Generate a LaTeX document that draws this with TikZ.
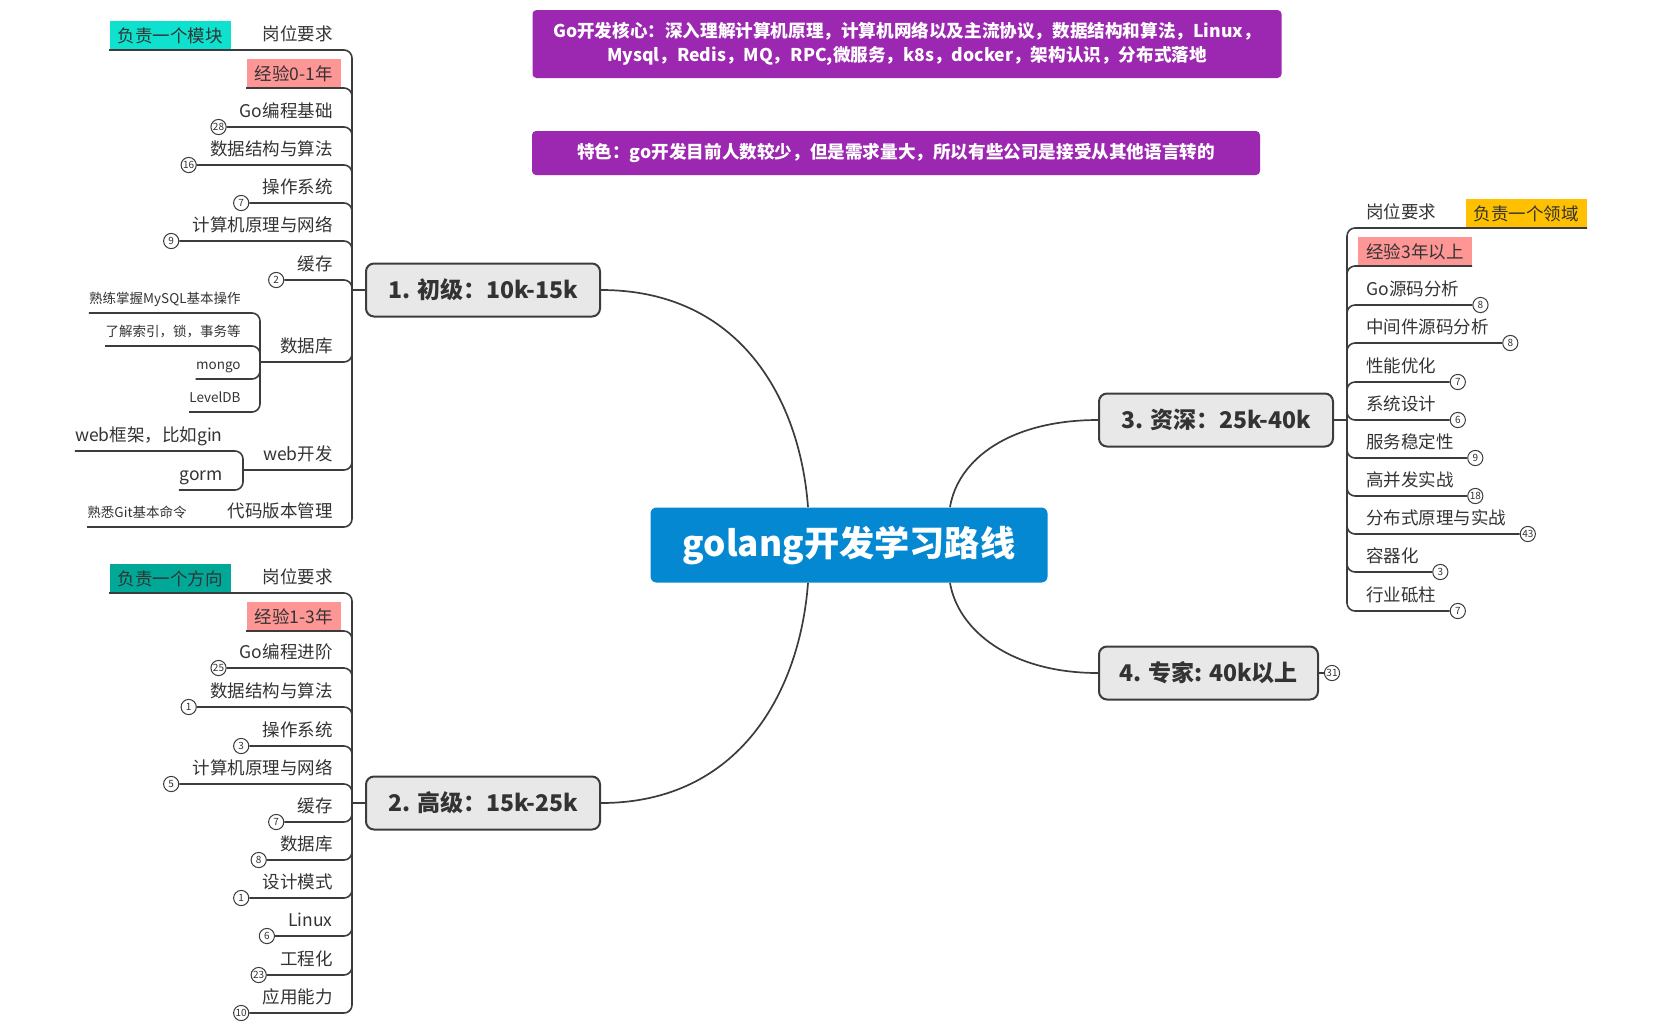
\documentclass[tikz,border=0pt]{standalone}
\usepackage{fontspec}
\setmainfont{Noto Sans CJK SC}
\definecolor{txtgray}{RGB}{51,51,51}
\definecolor{linegray}{RGB}{60,60,60}
\definecolor{topicgray}{RGB}{232,232,232}
\definecolor{rootblue}{RGB}{3,136,209}
\definecolor{notepurple}{RGB}{156,39,176}
\definecolor{modcyan}{RGB}{14,226,206}
\definecolor{dirteal}{RGB}{0,168,152}
\definecolor{fieldamber}{RGB}{255,192,0}
\definecolor{exppink}{RGB}{255,150,150}
\begin{document}
\begin{tikzpicture}[x=0.5pt, y=-0.5pt,
        root/.style={fill=rootblue, text=white, rounded corners=3pt, font=\fontsize{17.6}{20}\selectfont\bfseries,
            minimum width=198.5pt, minimum height=37.5pt},
        topic/.style={draw=linegray, fill=topicgray, line width=1pt, rounded corners=4pt, text=txtgray,
            font=\fontsize{11.5}{13}\selectfont\bfseries, minimum height=26.5pt, minimum width=117pt, inner xsep=8pt},
        note/.style={fill=notepurple, text=white, rounded corners=2pt, align=center,
            font=\fontsize{8.8}{12}\selectfont\bfseries},
        lsub/.style={anchor=south east, text=txtgray, font=\fontsize{8.75}{10}\selectfont,
            inner xsep=0pt, inner ysep=1pt, text height=0.85em, text depth=0.36em},
        rsub/.style={lsub, anchor=south west},
        small/.style={font=\fontsize{6.75}{8}\selectfont},
        tag/.style={anchor=south east, text=txtgray, font=\fontsize{8.75}{10}\selectfont,
            inner xsep=4pt, inner ysep=0pt, minimum height=14.5pt, text height=0.85em, text depth=0.15em},
        badge/.style={circle, draw=linegray, fill=white, inner sep=0pt, minimum size=7.6pt, line width=0.5pt,
            text=txtgray, font=\fontsize{5}{5}\selectfont},
        branch/.style={draw=linegray, line width=0.8pt, rounded corners=4pt},
        link/.style={draw=linegray, line width=0.85pt}]
    \useasboundingbox (0,0) rectangle (1654,1024);

    % notes on top
    \node [note, minimum width=374.5pt, minimum height=34pt] (core) at (907,44)
        {Go开发核心：深入理解计算机原理，计算机网络以及主流协议，数据结构和算法，Linux，\\
         Mysql，Redis，MQ，RPC,微服务，k8s，docker，架构认识，分布式落地};
    \node [note, minimum width=364pt, minimum height=22pt] (feat) at (896,153)
        {特色：go开发目前人数较少，但是需求量大，所以有些公司是接受从其他语言转的};

    % central topic and main topics
    \node [root] (ctr) at (849,545) {golang开发学习路线};
    \node [topic, anchor=east] (t1) at (601,290) {1. 初级：10k-15k};
    \node [topic, anchor=east] (t2) at (601,803) {2. 高级：15k-25k};
    \node [topic, anchor=west] (t3) at (1098,420) {3. 资深：25k-40k};
    \node [topic, anchor=west, minimum width=109.5pt] (t4) at (1098,673) {4. 专家: 40k以上};

    \draw [link] (t1.east) .. controls +(139,0) and +(-8,-108) .. ([xshift=-20.5pt]ctr.north);
    \draw [link] (t2.east) .. controls +(139,0) and +(-8,108) .. ([xshift=-20.5pt]ctr.south);
    \draw [link] (t3.west) .. controls +(-88,0) and +(8,-48) .. ([xshift=50.5pt]ctr.north);
    \draw [link] (t4.west) .. controls +(-88,0) and +(8,47) .. ([xshift=50.5pt]ctr.south);

    % 1. junior
    \coordinate (j1) at ([xshift=-6.5pt]t1.west);
    \draw [branch] (t1.west) -- (j1);
    \node [lsub] (req1) at (333,50) {岗位要求};
    \node [tag, fill=modcyan] (mod) at (231,50) {负责一个模块};
    \node [tag, fill=exppink] (exp1) at (341,88) {经验0-1年};
    \draw [branch] (j1) |- (mod.south west);
    \draw [branch] (j1) |- (exp1.south west);
    \foreach \i/\yu/\num/\lbl in {1/127/28/Go编程基础, 2/165/16/数据结构与算法, 3/203/7/操作系统,
                                  4/241/9/计算机原理与网络, 5/280/2/缓存} {
        \node [lsub] (pa\i) at (333,\yu) {\lbl};
        \node [badge] (pb\i) at ([xshift=-10.5pt]pa\i.south west) {\num};
        \draw [branch] (j1) |- (pb\i);
    }
    \node [lsub] (db1) at (333,362) {数据库};
    \coordinate (dbj) at (260,362);
    \draw [branch] (j1) |- (dbj);
    \node [lsub, small] (mysql) at (241,313) {熟练掌握MySQL基本操作};
    \node [lsub, small] (index) at (241,346) {了解索引，锁，事务等};
    \node [lsub, small] (mongo) at (241,379) {mongo};
    \node [lsub, small] (leveldb) at (241,412) {LevelDB};
    \foreach \c in {mysql,index,mongo,leveldb}
        \draw [branch] (dbj) |- (\c.south west);
    \node [lsub] (web) at (333,470) {web开发};
    \coordinate (webj) at (243,470);
    \draw [branch] (j1) |- (webj);
    \node [lsub] (gin) at (223,451) {web框架，比如gin};
    \node [lsub] (gorm) at (223,490) {gorm};
    \draw [branch] (webj) |- (gin.south west);
    \draw [branch] (webj) |- (gorm.south west);
    \node [lsub] (vcs) at (333,527) {代码版本管理};
    \node [lsub, small] (git) at (187,527) {熟悉Git基本命令};
    \draw [branch] (j1) |- (git.south west);

    % 2. senior
    \coordinate (j2) at ([xshift=-6.5pt]t2.west);
    \draw [branch] (t2.west) -- (j2);
    \node [lsub] (req2) at (333,593) {岗位要求};
    \node [tag, fill=dirteal] (dir) at (231,593) {负责一个方向};
    \node [tag, fill=exppink] (exp2) at (341,631) {经验1-3年};
    \draw [branch] (j2) |- (dir.south west);
    \draw [branch] (j2) |- (exp2.south west);
    \foreach \i/\yu/\num/\lbl in {1/668/25/Go编程进阶, 2/707/1/数据结构与算法, 3/746/3/操作系统,
                                  4/784/5/计算机原理与网络, 5/822/7/缓存, 6/860/8/数据库, 7/898/1/设计模式,
                                  8/936/6/Linux, 9/975/23/工程化, 10/1013/10/应用能力} {
        \node [lsub] (qa\i) at (333,\yu) {\lbl};
        \node [badge] (qb\i) at ([xshift=-10.5pt]qa\i.south west) {\num};
        \draw [branch] (j2) |- (qb\i);
    }

    % 3. expert
    \coordinate (j3) at ([xshift=6.5pt]t3.east);
    \draw [branch] (t3.east) -- (j3);
    \node [rsub] (req3) at (1366,228) {岗位要求};
    \node [tag, fill=fieldamber] (fld) at (1587,228) {负责一个领域};
    \node [tag, fill=exppink, anchor=south west] (exp3) at (1358,266) {经验3年以上};
    \draw [branch] (j3) |- (fld.south east);
    \draw [branch] (j3) |- (exp3.south east);
    \foreach \i/\yu/\num/\lbl in {1/305/8/Go源码分析, 2/343/8/中间件源码分析, 3/382/7/性能优化,
                                  4/420/6/系统设计, 5/458/9/服务稳定性, 6/496/18/高并发实战,
                                  7/534/43/分布式原理与实战, 8/572/3/容器化, 9/611/7/行业砥柱} {
        \node [rsub] (ra\i) at (1366,\yu) {\lbl};
        \node [badge] (rb\i) at ([xshift=10.5pt]ra\i.south east) {\num};
        \draw [branch] (j3) |- (rb\i);
    }

    % 4. master
    \node [badge] (b31) at ([xshift=6.5pt]t4.east) {31};
    \draw [branch] (t4.east) -- (b31);
\end{tikzpicture}
\end{document}
